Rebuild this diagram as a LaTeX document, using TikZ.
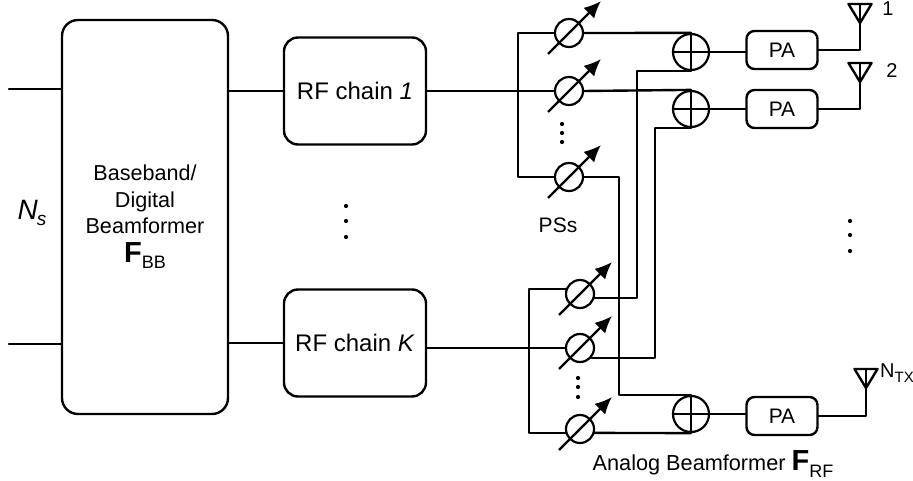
\documentclass[tikz,border=0pt]{standalone}
\usepackage{fontspec}
\setmainfont{Liberation Sans}
\usepackage{tikz}
\usetikzlibrary{calc}
\usetikzlibrary{arrows.meta}
\newcommand{\fsize}[1]{\fontsize{#1}{26.5}\selectfont}
\newcommand{\subtext}[2]{\raisebox{-0.22em}{\fsize{#1}#2}}
\tikzset{ base_box/.style = {rectangle, rounded corners=16pt, draw, line width=2.4pt, align=center, minimum width=166pt, minimum height=394pt, font=\fsize{21.6}} }
\tikzset{ rf_box/.style = {rectangle, rounded corners=14pt, draw, line width=2.4pt, minimum width=142pt, minimum height=107pt, font=\fsize{24}} }
\tikzset{ pa_box/.style = {rectangle, rounded corners=8pt, draw, line width=2.4pt, minimum width=71pt, minimum height=38pt, font=\fsize{21}} }
\tikzset{ ps_circ/.style = {circle, draw, line width=2.2pt, inner sep=0pt, minimum size=28pt} }
\tikzset{ add_circ/.style = {circle, draw, line width=2.2pt, inner sep=0pt, minimum size=36pt} }
\tikzset{ wire/.style = {line width=2.4pt, line cap=round, line join=round} }
\tikzset{ tune/.style = {line width=2.2pt, -{Latex[length=17pt,width=15pt]}} }
\tikzset{ dot_mark/.style = {circle, fill, inner sep=0pt, minimum size=4.2pt} }
\tikzset{ label_txt/.style = {inner sep=0pt, font=\fsize{21}} }

\begin{document}
\begin{tikzpicture}[x=1pt,y=-1pt]
    \useasboundingbox (0,0) rectangle (913,481);
    \node[base_box] (BB) at (145,217) {Baseband/\\Digital\\Beamformer\\[2pt]\fsize{29}\textbf{F}\subtext{18}{BB}};
    \node[rf_box] (RF1) at (355,91) {RF chain \textit{1}};
    \node[rf_box] (RFK) at (355,343) {RF chain \textit{K}};
    \node[label_txt, font=\fsize{28}\itshape] (NS) at (32,213) {N\kern-1pt\subtext{19}{s}};
    \coordinate (IN1) at (9,89);
    \coordinate (INK) at (9,344);
    \draw[wire] (IN1) -- (IN1 -| BB.west);
    \draw[wire] (INK) -- (INK -| BB.west);
    \draw[wire] (RF1.west -| BB.east) -- (RF1.west);
    \draw[wire] (RFK.west -| BB.east) -- (RFK.west);
    % phase shifters
    \foreach \name/\x/\y in {PS1/569/33, PS2/569/91, PS3/569/177, PS4/580/294, PS5/580/348, PS6/580/429} {
        \node[ps_circ] (\name) at (\x,\y) {};
        \draw[tune] ($(\name)+(-21,21)$) -- ($(\name)+(32,-32)$);
    }
    % adders and amplifiers
    \foreach \name/\amp/\y/\ya in {ADD1/PA1/52/50, ADD2/PA2/109/109, ADD3/PA3/414/416} {
        \node[add_circ] (\name) at (691,\y) {};
        \node[pa_box] (\amp) at (782,\ya) {PA};
        \draw[line width=2.2pt] (\name.north) -- (\name.south);
        \draw[line width=2.2pt] (\name.west) -- (\name.east);
        \draw[wire] (\name.east) -- (\name.east -| \amp.west);
    }
    \coordinate (BUS1) at (518,91);
    \coordinate (BUS2) at (529,348);
    \coordinate (BUS3) at (619,300);
    \coordinate (BUS4) at (637,200);
    \coordinate (BUS5) at (655,200);
    \draw[wire] (RF1.east) -- (PS2.west);
    \draw[wire] (PS5.west -| RFK.east) -- (PS5.west);
    \draw[wire] (PS1.west) -| (BUS1) |- (PS3.west);
    \draw[wire] (PS4.160) -| (BUS2) |- (PS6.195);
    \draw[wire] (PS1.east) -- (ADD1.north);
    \draw[wire] (PS2.east) -- (ADD2.north);
    \draw[wire] (PS6.-15) -- (ADD3.south);
    \draw[wire] (PS3.east) -| (BUS3) |- (ADD3.north);
    \draw[wire] (PS4.-15) -| (BUS4) |- (ADD1.south);
    \draw[wire] (PS5.-40) -| (BUS5) |- (ADD2.south);
    % antennas
    \foreach \name/\amp/\x/\y in {ANT1/PA1/860/23, ANT2/PA2/860/82, ANT3/PA3/866/388} {
        \coordinate (\name) at (\x,\y);
        \draw[wire] ($(\name)+(-11.5,-19)$) -- ($(\name)+(11.5,-19)$) -- (\name) -- cycle;
        \draw[wire] ($(\name)+(0,-19)$) -- (\name);
        \draw[wire] (\amp.east) -| (\name);
    }
    \node[label_txt, font=\fsize{20}] (L1) at (888,8.5) {1};
    \node[label_txt, font=\fsize{20}] (L2) at (892,71) {2};
    \node[label_txt, font=\fsize{20}, anchor=west] (LN) at (880,373) {N\subtext{15}{TX}};
    \node[label_txt] (PSS) at (558,225) {PSs};
    \node[label_txt, font=\fsize{21.7}] (AB) at (713,464) {Analog Beamformer \fsize{29}\textbf{F}\subtext{18}{RF}};
    % dots
    \foreach \x/\y in {562/124, 562/133, 562/142, 346/206, 346/221, 346/237, 850/221, 850/235, 850/251, 578/378, 578/387, 578/397} {
        \node[dot_mark] at (\x,\y) {};
    }
\end{tikzpicture}
\end{document}
